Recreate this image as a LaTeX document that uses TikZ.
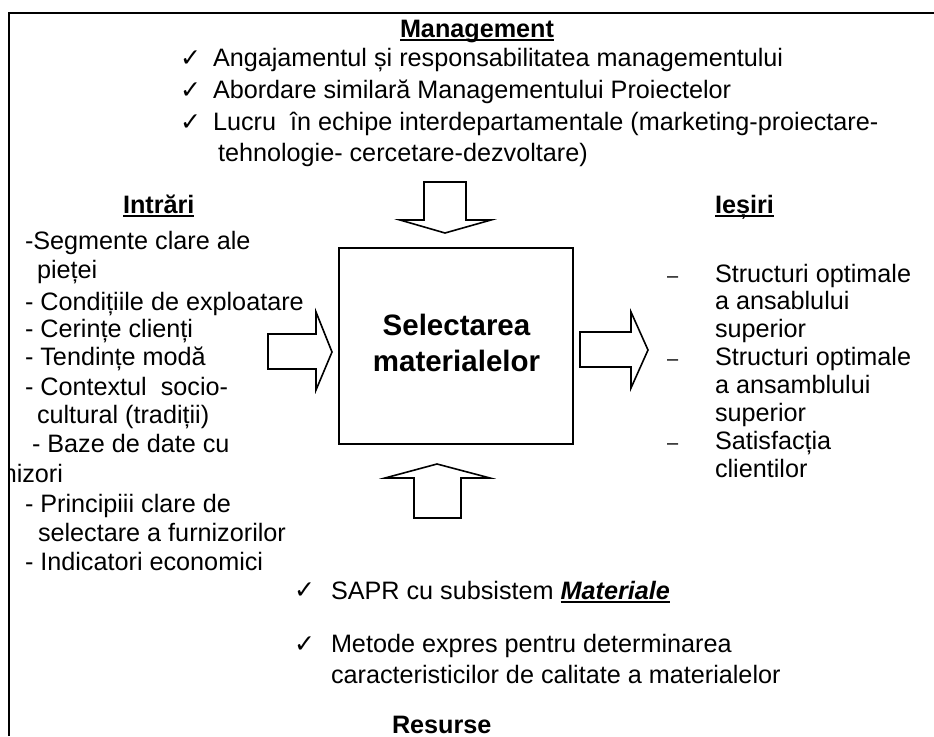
\documentclass[tikz,border=0pt]{standalone}
\usepackage{fontspec}
\setmainfont{Liberation Sans}
\newfontfamily\symfont{DejaVu Sans}
\newcommand{\ulx}[1]{\sbox0{#1}\rlap{\usebox0}\rule[-3.6pt]{\wd0}{2pt}}
\begin{document}
\begin{tikzpicture}[x=1pt,y=-1pt,
  txt/.style={anchor=base west,inner sep=0pt,outer sep=0pt,font=\fontsize{25.2}{30}\selectfont},
  head/.style={txt,font=\fontsize{25.2}{30}\selectfont\bfseries},
  title/.style={anchor=base,inner sep=0pt,outer sep=0pt,font=\fontsize{29.5}{36}\selectfont\bfseries},
  dashmark/.style={anchor=base west,inner sep=0pt,outer sep=0pt,font=\fontsize{20}{24}\selectfont},
  chk/.style={anchor=base west,inner sep=0pt,font=\fontsize{25}{30}\selectfont\symfont},
  frameln/.style={line width=2pt},
  blockarrow/.style={draw,fill=white,line width=1.6pt,line join=miter}]
\useasboundingbox (0,0) rectangle (934,736);
\fill[white] (0,0) rectangle (934,736);
\coordinate (fa) at (9,736); \coordinate (fb) at (9,13); \coordinate (fc) at (934,13);
\draw[frameln] (fa) -- (fb) -- (fc);
% top
\node[head] (mg) at (400,37) {\ulx{Management}};
\node[chk] (c1) at (180,66) {✓};
\node[txt] (t1) at (213,66) {Angajamentul și responsabilitatea managementului};
\node[chk] (c2) at (180,98) {✓};
\node[txt] (t2) at (213,98) {Abordare similară Managementului Proiectelor};
\node[chk] (c3) at (180,130) {✓};
\node[txt] (t3) at (213,130) {Lucru\ \ în echipe interdepartamentale (marketing-proiectare-};
\node[txt] (t4) at (218,161) {tehnologie- cercetare-dezvoltare)};
% left
\node[head] (in) at (123,213) {\ulx{Intrări}};
\node[txt] (l1) at (25,249) {-Segmente clare ale};
\node[txt] (l2) at (37,278) {pieței};
\node[txt] (l3) at (25,310) {- Condițiile de exploatare};
\node[txt] (l4) at (25,337) {- Cerințe clienți};
\node[txt] (l5) at (25,365) {- Tendințe modă};
\node[txt] (l6) at (25,395) {- Contextul\ \ socio-};
\node[txt] (l7) at (37,423) {cultural (tradiții)};
\node[txt] (l8) at (32,452) {- Baze de date cu};
\begin{scope}
\clip (10,460) rectangle (200,500);
\node[txt,anchor=base east] (l9) at (63,482) {furnizori};
\end{scope}
\node[txt] (l10) at (25,512) {- Principiii clare de};
\node[txt] (l11) at (38,541) {selectare a furnizorilor};
\node[txt] (l12) at (25,570) {- Indicatori economici};
% right
\node[head] (ie) at (715,213) {\ulx{Ieșiri}};
\foreach \n/\y/\s in {r1/282/Structuri optimale,r2/309/a ansablului,r3/337/superior,r4/365/Structuri optimale,r5/393/a ansamblului,r6/421/superior,r7/449/Satisfacția,r8/477/clientilor}
  \node[txt] (\n) at (715,\y) {\s};
\foreach \n/\y in {d1/282,d2/365,d3/449}
  \node[dashmark] (\n) at (667,\y) {–};
% centre
\node[draw,line width=1.4pt,minimum width=234pt,minimum height=196pt,inner sep=0pt,outer sep=0pt] (box) at (456,346) {};
\node[title] (sel1) at (456.5,335) {Selectarea};
\node[title] (sel2) at (456.5,371) {materialelor};
% arrows
\draw[blockarrow] (424,182) -- (466,182) -- (466,220) -- (491,220) -- (445,233) -- (400,220) -- (424,220) -- cycle;
\draw[blockarrow] (268,334) -- (316,334) -- (316,312) -- (332,352) -- (316,390) -- (316,369) -- (268,369) -- cycle;
\draw[blockarrow] (580,332) -- (631,332) -- (631,312) -- (648,350) -- (631,388) -- (631,367) -- (580,367) -- cycle;
\draw[blockarrow] (414,518) -- (461,518) -- (461,478) -- (490,478) -- (437,464) -- (385,478) -- (414,478) -- cycle;
% bottom
\node[chk] (b1) at (294,598) {✓};
\node[txt] (b1t) at (331,599) {SAPR cu subsistem \textbf{\textit{\ulx{Materiale}}}};
\node[chk] (b2) at (294,652) {✓};
\node[txt] (b2t) at (331,652.5) {Metode expres pentru determinarea};
\node[txt] (b3t) at (331,683.5) {caracteristicilor de calitate a materialelor};
\node[head] (re) at (392,733) {Resurse};
\end{tikzpicture}
\end{document}
